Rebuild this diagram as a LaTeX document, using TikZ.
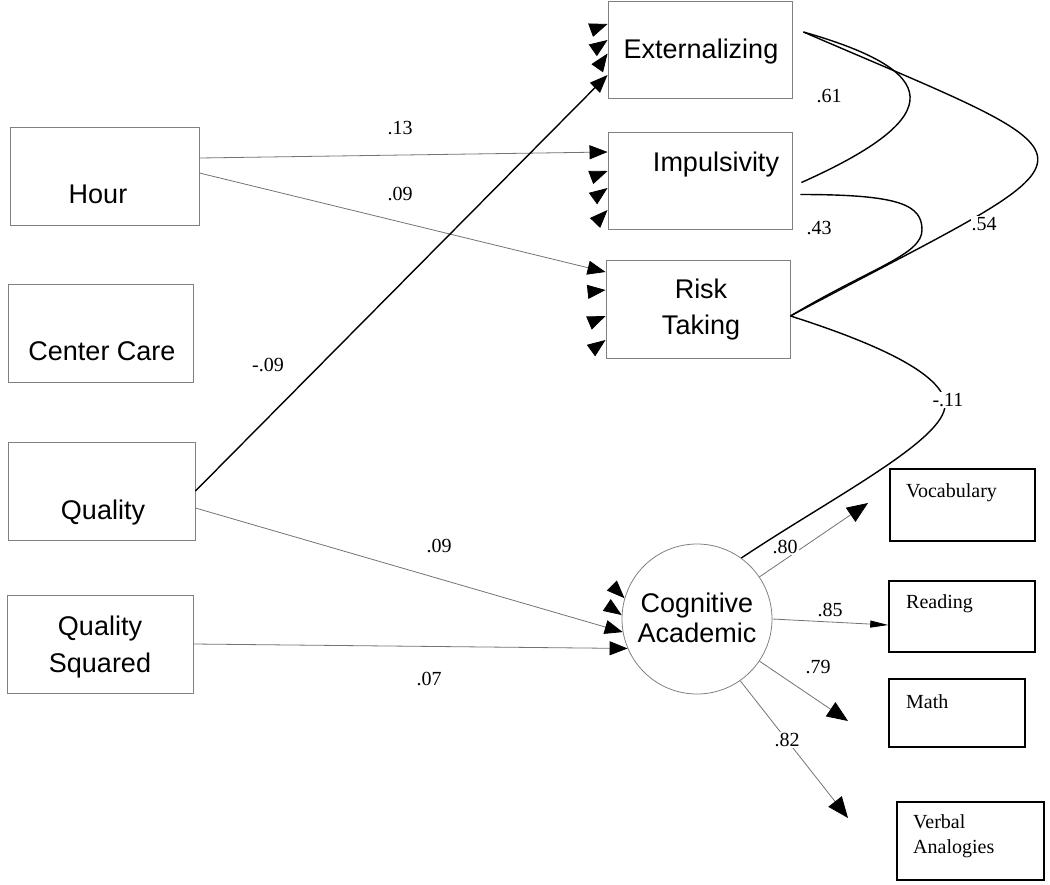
\documentclass[tikz,border=0pt]{standalone}
\usepackage{fontspec}
\setmainfont{Liberation Serif}
\setsansfont{Liberation Sans}
\usetikzlibrary{arrows.meta}
\tikzset{>={Triangle[length=18pt,width=14pt,color=black]}}
\tikzset{
  varbox/.style={draw=black!50, line width=0.9pt, minimum height=98pt, inner sep=0pt},
  testbox/.style={draw=black, line width=1.5pt, inner sep=0pt},
  factor/.style={draw=black!50, line width=0.8pt, circle, minimum size=150pt, inner sep=0pt},
  vartxt/.style={font=\sffamily\fontsize{27}{36}\selectfont, align=center, inner sep=0pt},
  testtxt/.style={font=\fontsize{20}{25}\selectfont, align=left, anchor=west, inner sep=0pt},
  coef/.style={font=\fontsize{20}{24}\selectfont, fill=white, inner sep=1pt},
  gline/.style={draw=black!55, line width=0.8pt, ->},
  bline/.style={draw=black, line width=1.4pt, ->},
  corr/.style={draw=black, line width=1.4pt},
  bigtip/.style={-{Triangle[length=21pt,width=17pt,color=black]}},
}
% arrow heads left without a line: anchor, shift, direction
\newcommand\stub[3]{\draw[gline] ([shift={(#3:18pt)},yshift=#2]#1) -- ([yshift=#2]#1);}

\begin{document}
\begin{tikzpicture}[x=1pt,y=-1pt]
\useasboundingbox (0,0) rectangle (1050,884);

% predictors
\node[varbox, minimum width=189pt] (hour) at (104.5,176) {};
\node[varbox, minimum width=185pt] (center) at (100.5,333.5) {};
\node[varbox, minimum width=187pt] (qual) at (101.5,491) {};
\node[varbox, minimum width=186pt] (qsq) at (100,644) {};
\node[vartxt] (hourtxt) at (98,194) {Hour};
\node[vartxt] (centertxt) at (102,351) {Center Care};
\node[vartxt] (qualtxt) at (103,513) {Quality};
\node[vartxt, font=\sffamily\fontsize{27}{37}\selectfont] (qsqtxt) at (100,647) {Quality\\Squared};

% outcomes
\node[varbox, minimum width=184pt, minimum height=97pt] (ext) at (700,49.5) {};
\node[varbox, minimum width=184pt, minimum height=97pt] (imp) at (700,180.5) {};
\node[varbox, minimum width=184pt] (risk) at (698,309) {};
\node[vartxt] (exttxt) at (701,52) {Externalizing};
\node[vartxt] (imptxt) at (716,165) {Impulsivity};
\node[vartxt] (risktxt) at (701,310) {Risk\\Taking};

\node[factor] (cog) at (697,619) {};
\node[vartxt, font=\sffamily\fontsize{27}{30}\selectfont] (cogtxt) at (697,618) {Cognitive\\Academic};

% indicators
\node[testbox, minimum width=145pt, minimum height=72pt] (vocab) at (962.5,505) {};
\node[testbox, minimum width=146pt, minimum height=71pt] (read) at (962,616.5) {};
\node[testbox, minimum width=136pt, minimum height=68pt] (math) at (957,713) {};
\node[testbox, minimum width=147pt, minimum height=78pt] (verbal) at (970.5,841) {};
\node[testtxt] (vocabtxt) at (906,493) {Vocabulary};
\node[testtxt] (readtxt) at (906,604) {Reading};
\node[testtxt] (mathtxt) at (906,702) {Math};
\node[testtxt] (verbaltxt) at (913,836) {Verbal\\Analogies};

\coordinate (voctip) at (868,503);
\coordinate (mathtip) at (848,721);
\coordinate (verbtip) at (848,818);

% paths
\draw[gline] ([yshift=18pt]hour.east) -- ([yshift=28.5pt]imp.west);
\draw[gline] ([yshift=3pt]hour.east) -- ([yshift=37pt]risk.west);
\draw[bline] (qual.east) -- ([yshift=-25.5pt]ext.west);
\draw[gline] ([yshift=-17pt]qual.east) -- (cog.190);
\draw[gline] (qsq.east) -- (cog.203);

\stub{ext.west}{25.5pt}{200}
\stub{ext.west}{9.5pt}{215}
\stub{ext.west}{-4pt}{235}
\stub{imp.west}{9.5pt}{201}
\stub{imp.west}{-7.5pt}{216}
\stub{imp.west}{-29.5pt}{226}
\stub{risk.west}{19pt}{186}
\stub{risk.west}{-7pt}{203}
\stub{risk.west}{-31pt}{216}
\stub{cog.164}{0pt}{135}
\stub{cog.177}{0pt}{146}

% loadings
\draw[gline, bigtip] (cog.34) -- (voctip);
\draw[gline, -{Triangle[length=18pt,width=7pt,color=black]}] (cog.east) -- ([yshift=-8.5pt]read.west);
\draw[gline, bigtip] (cog.-34) -- (mathtip);
\draw[gline, bigtip] (cog.-55) -- (verbtip);

% correlations
\draw[corr] ([shift={(11pt,17.5pt)}]ext.east) .. controls +(137,39) and +(150,-67) .. ([shift={(9pt,-2pt)}]imp.east);
\draw[corr] ([shift={(11pt,17.5pt)}]ext.east) .. controls +(320,138) and +(322,-172) .. ([yshift=-7pt]risk.east);
\draw[corr] ([shift={(8pt,-14pt)}]imp.east) .. controls +(100,0) and +(0,-25) .. (922,230) .. controls +(0,25) and +(80,-48) .. ([yshift=-7pt]risk.east);
\draw[corr] ([yshift=-7pt]risk.east) .. controls +(88,28) and +(0,-30) .. (945,405) .. controls +(0,35) and +(90,-60) .. (cog.54);

% coefficients
\node[coef] (c13) at (400,128) {.13};
\node[coef] (c09a) at (400,194) {.09};
\node[coef] (c09b) at (268,365) {-.09};
\node[coef] (c09c) at (439,546) {.09};
\node[coef] (c07) at (429,679) {.07};
\node[coef] (c61) at (829,96) {.61};
\node[coef] (c43) at (819,228) {.43};
\node[coef] (c54) at (984,224) {.54};
\node[coef] (c11) at (948,400) {-.11};
\node[coef] (c80) at (785,547) {.80};
\node[coef] (c85) at (830,610) {.85};
\node[coef] (c79) at (818,667) {.79};
\node[coef] (c82) at (787,740) {.82};
\end{tikzpicture}
\end{document}
